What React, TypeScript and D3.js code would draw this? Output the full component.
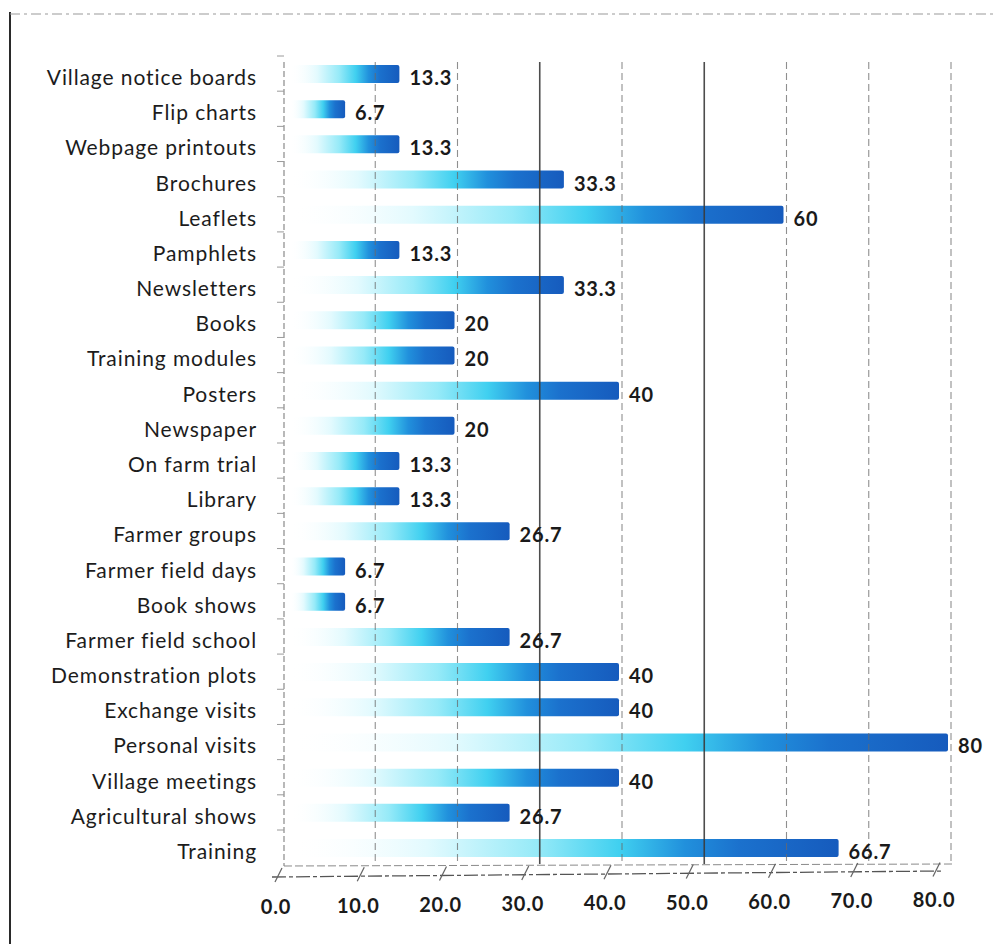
import React from "react";
import * as d3 from "d3";

// Dissemination channels, listed top to bottom as drawn
const categories: string[] = [
  "Village notice boards",
  "Flip charts",
  "Webpage printouts",
  "Brochures",
  "Leaflets",
  "Pamphlets",
  "Newsletters",
  "Books",
  "Training modules",
  "Posters",
  "Newspaper",
  "On farm trial",
  "Library",
  "Farmer groups",
  "Farmer field days",
  "Book shows",
  "Farmer field school",
  "Demonstration plots",
  "Exchange visits",
  "Personal visits",
  "Village meetings",
  "Agricultural shows",
  "Training",
];

// Percentage of respondents per channel
const values: number[] = [
  13.3, 6.7, 13.3, 33.3, 60, 13.3, 33.3, 20, 20, 40, 20, 13.3, 13.3, 26.7,
  6.7, 6.7, 26.7, 40, 40, 80, 40, 26.7, 66.7,
];

const tickValues: number[] = [0, 10, 20, 30, 40, 50, 60, 70, 80];
const tickLabels: string[] = ["0.0", "10.0", "20.0", "30.0", "40.0", "50.0", "60.0", "70.0", "80.0"];

const W = 1000;
const H = 944;

export default function App() {
  const x = d3.scaleLinear().domain([0, 80]).range([290, 948]);
  const y = d3.scalePoint<string>().domain(categories).range([78, 852]);

  const labelFont = "Lato, 'Open Sans', sans-serif";
  const gridTop = 62;
  const gridBottom = 864;

  const fmt = (v: number) => (Number.isInteger(v) ? String(v) : v.toFixed(1));

  return (
    <svg
      width={W}
      height={H}
      viewBox={`0 0 ${W} ${H}`}
      style={{ position: "absolute", left: 0, top: 0, background: "#fff" }}
    >
      <defs>
        <linearGradient id="barFill" x1="0" x2="1" y1="0" y2="0">
          <stop offset="0" stopColor="#ffffff" stopOpacity="0" />
          <stop offset="0.25" stopColor="#e2fafe" />
          <stop offset="0.45" stopColor="#96eaf8" />
          <stop offset="0.6" stopColor="#40d0f0" />
          <stop offset="0.72" stopColor="#2190dc" />
          <stop offset="0.82" stopColor="#1b71cd" />
          <stop offset="1" stopColor="#165bbd" />
        </linearGradient>
        <linearGradient id="edgeStroke" x1="0" x2="1" y1="0" y2="0">
          <stop offset="0" stopColor="#7fd9ef" stopOpacity="0.2" />
          <stop offset="0.5" stopColor="#3aa6e0" stopOpacity="0.7" />
          <stop offset="1" stopColor="#0f4ea8" />
        </linearGradient>
      </defs>

      {/* outer frame */}
      <line x1={10} x2={10} y1={12} y2={H} stroke="#2a2a2a" strokeWidth={2} />
      <line x1={10} x2={995} y1={14} y2={14} stroke="#9a9a9a" strokeWidth={1.2} strokeDasharray="10 4 3 4" />

      {/* back wall and floor */}
      <line x1={284} x2={284} y1={gridTop} y2={gridBottom + 2} stroke="#8a8a8a" strokeWidth={1.2} strokeDasharray="6 3" />
      {categories.map((c, i) => (
        <line
          key={`lt-${i}`}
          x1={277}
          x2={284}
          y1={(y(c) as number) - 22}
          y2={(y(c) as number) - 22}
          stroke="#9a9a9a"
          strokeWidth={1}
        />
      ))}
      <line x1={284} x2={955} y1={gridBottom + 2} y2={gridBottom} stroke="#8a8a8a" strokeWidth={1} strokeDasharray="8 3" />
      <line x1={272} x2={944} y1={877} y2={871} stroke="#555" strokeWidth={1.3} strokeDasharray="14 3 4 3" />

      {/* slanted tick marks on the floor edge */}
      {tickValues.map((v) => (
        <line
          key={`t-${v}`}
          x1={x(v) - 15}
          x2={x(v) - 8}
          y1={882 - v * 0.07}
          y2={868 - v * 0.07}
          stroke="#666"
          strokeWidth={1.2}
        />
      ))}

      {/* bars */}
      {categories.map((c, i) => {
        const cy = y(c) as number;
        const x0 = x(0);
        const x1 = x(values[i]);
        const top = cy - 13;
        const h = 18;
        return (
          <g key={`b-${i}`}>
            <rect x={x0} y={top} width={x1 - x0} height={h} fill="url(#barFill)" rx={2} />
            <line
              x1={x0 + 4}
              x2={x1 - 2}
              y1={top + 1}
              y2={top + 1}
              stroke="url(#edgeStroke)"
              strokeWidth={1.5}
              strokeDasharray="5 2"
            />
          </g>
        );
      })}

      {/* vertical grid lines, showing through the bars */}
      {tickValues.slice(1).map((v) => {
        const solid = v === 30 || v === 50;
        return (
          <line
            key={`g-${v}`}
            x1={x(v) + 3}
            x2={x(v) + 3}
            y1={gridTop}
            y2={gridBottom}
            stroke={solid ? "#3a3a3a" : "#6a6a6a"}
            strokeOpacity={solid ? 0.9 : 0.75}
            strokeWidth={solid ? 1.6 : 1.1}
            strokeDasharray={solid ? undefined : "7 4"}
          />
        );
      })}

      {/* value labels */}
      {categories.map((c, i) => (
        <text
          key={`v-${i}`}
          x={x(values[i]) + 10}
          y={(y(c) as number) + 7}
          fontFamily={labelFont}
          fontWeight={700}
          fontSize={20}
          letterSpacing={0.8}
          fill="#1a1a1a"
        >
          {fmt(values[i])}
        </text>
      ))}

      {/* category labels */}
      {categories.map((c) => (
        <text
          key={`c-${c}`}
          x={257}
          y={(y(c) as number) + 7}
          textAnchor="end"
          fontFamily={labelFont}
          fontSize={21}
          letterSpacing={0.9}
          fill="#1c1c1c"
        >
          {c}
        </text>
      ))}

      {/* x-axis tick labels */}
      {tickValues.map((v, i) => (
        <text
          key={`xl-${v}`}
          x={x(v) - 14}
          y={914 - v * 0.09}
          textAnchor="middle"
          fontFamily={labelFont}
          fontWeight={700}
          fontSize={20}
          letterSpacing={0.8}
          fill="#1a1a1a"
        >
          {tickLabels[i]}
        </text>
      ))}
    </svg>
  );
}
